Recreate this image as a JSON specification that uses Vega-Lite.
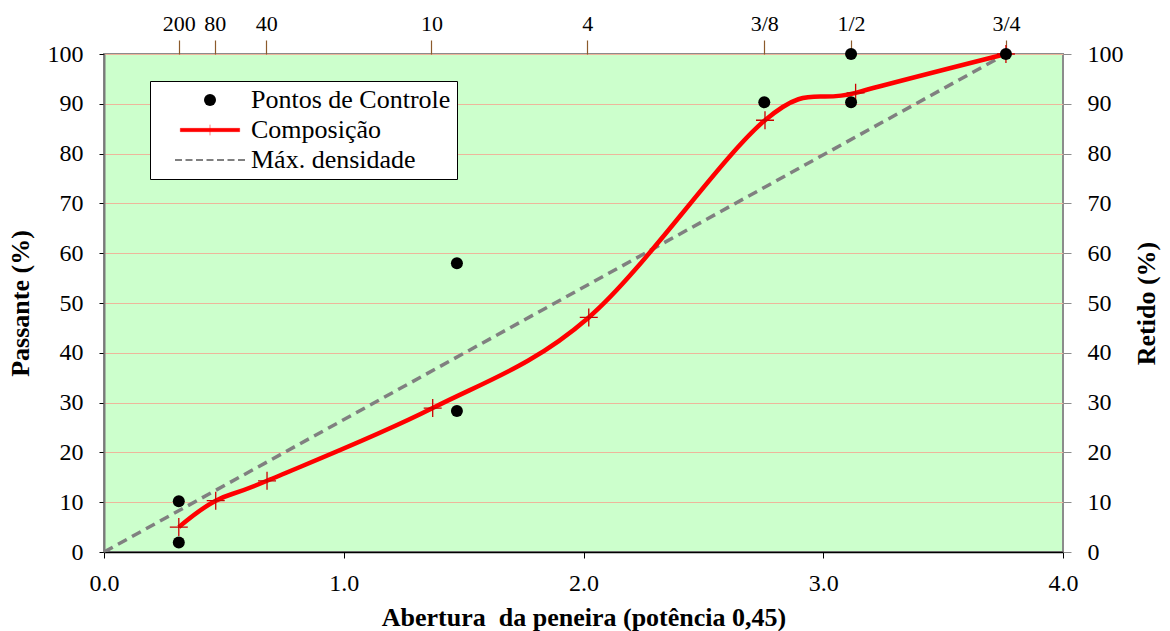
{
  "$schema": "https://vega.github.io/schema/vega-lite/v6.json",
  "width": 959,
  "height": 498,
  "autosize": {"type": "none"},
  "padding": {"left": 104, "top": 54, "right": 107, "bottom": 79},
  "background": "white",
  "config": {
    "view": {"fill": "#CCFFCC", "stroke": "#8c8c8c", "strokeWidth": 2},
    "font": "Liberation Serif",
    "axis": {"labelFont": "Liberation Serif", "titleFont": "Liberation Serif", "labelColor": "black", "titleColor": "black", "labelFlush": false}
  },
  "datasets": {
    "controle": [
      {"x": 0.312, "y": 10.2, "serie": "Pontos de Controle"},
      {"x": 0.312, "y": 1.9, "serie": "Pontos de Controle"},
      {"x": 1.472, "y": 58.0, "serie": "Pontos de Controle"},
      {"x": 1.472, "y": 28.3, "serie": "Pontos de Controle"},
      {"x": 2.754, "y": 90.3, "serie": "Pontos de Controle"},
      {"x": 3.116, "y": 100.0, "serie": "Pontos de Controle"},
      {"x": 3.116, "y": 90.3, "serie": "Pontos de Controle"},
      {"x": 3.762, "y": 100.0, "serie": "Pontos de Controle"}
    ],
    "composicao": [
      {"x": 0.312, "y": 5.0},
      {"x": 0.466, "y": 10.3},
      {"x": 0.68, "y": 14.3},
      {"x": 1.371, "y": 28.9},
      {"x": 2.022, "y": 47.1},
      {"x": 2.757, "y": 86.7},
      {"x": 3.135, "y": 92.2},
      {"x": 3.762, "y": 100.0}
    ],
    "maxdens": [
      {"x": 0.0, "y": 0.0},
      {"x": 3.762, "y": 100.0}
    ]
  },
  "resolve": {"axis": {"x": "independent", "y": "independent"}},
  "layer": [
    {
      "data": {"name": "maxdens"},
      "mark": {"type": "line", "stroke": "#808080", "strokeWidth": 3.5, "strokeDash": [10, 6], "clip": true},
      "encoding": {
        "x": {"field": "x", "type": "quantitative", "scale": {"domain": [0, 4], "nice": false},
          "axis": {"orient": "bottom", "values": [0, 1, 2, 3, 4], "format": ".1f", "grid": false,
            "labelFontSize": 24, "labelPadding": 13, "tickSize": 6, "tickColor": "black", "domainColor": "black", "domainWidth": 1.5,
            "title": "Abertura\u00a0 da peneira (potência 0,45)", "titleFontSize": 26, "titleFontWeight": "bold", "titlePadding": 9}},
        "y": {"field": "y", "type": "quantitative", "scale": {"domain": [0, 100], "nice": false},
          "axis": {"orient": "left", "values": [0, 10, 20, 30, 40, 50, 60, 70, 80, 90, 100], "grid": true, "gridColor": "#EDB69C", "gridWidth": 1,
            "labelFontSize": 24, "labelPadding": 16, "tickSize": 5, "tickColor": "black", "domainColor": "#7a7a7a", "domainWidth": 2,
            "title": "Passante (%)", "titleFontSize": 26, "titleFontWeight": "bold", "titlePadding": 14}}
      }
    },
    {
      "data": {"name": "composicao"},
      "mark": {"type": "line", "stroke": "#FF0000", "strokeWidth": 4.5, "interpolate": "cardinal", "tension": 0},
      "encoding": {
        "x": {"field": "x", "type": "quantitative",
          "axis": {"orient": "top", "values": [0.312, 0.462, 0.677, 1.366, 2.016, 2.754, 3.116, 3.762],
            "labelExpr": "datum.value < 0.4 ? '200' : datum.value < 0.5 ? '80' : datum.value < 1 ? '40' : datum.value < 1.5 ? '10' : datum.value < 2.5 ? '4' : datum.value < 3 ? '3/8' : datum.value < 3.5 ? '1/2' : '3/4'",
            "grid": false, "domain": false, "labelFontSize": 22, "labelPadding": 5, "tickSize": 14, "tickColor": "#8B5A2B", "tickWidth": 1.2, "title": null}},
        "y": {"field": "y", "type": "quantitative",
          "axis": {"orient": "right", "values": [0, 10, 20, 30, 40, 50, 60, 70, 80, 90, 100], "grid": false,
            "labelFontSize": 24, "labelPadding": 16, "tickSize": 8, "tickColor": "#8c8c8c", "domain": false,
            "title": "Retido (%)", "titleAngle": 270, "titleFontSize": 26, "titleFontWeight": "bold", "titlePadding": 36}}
      }
    },
    {
      "data": {"name": "composicao"},
      "mark": {"type": "point", "shape": "M-1,0H1M0,-1V1", "size": 324, "filled": false, "stroke": "#CC0000", "strokeWidth": 1.3, "opacity": 1},
      "encoding": {
        "x": {"field": "x", "type": "quantitative", "axis": null},
        "y": {"field": "y", "type": "quantitative", "axis": null}
      }
    },
    {
      "data": {"name": "controle"},
      "mark": {"type": "point", "opacity": 1},
      "encoding": {
        "x": {"field": "x", "type": "quantitative", "axis": null},
        "y": {"field": "y", "type": "quantitative", "axis": null},
        "shape": {"field": "serie", "type": "nominal",
          "scale": {"domain": ["Pontos de Controle", "Composição", "Máx. densidade"],
            "range": ["circle", "M-3.6,-0.2H3.6V0.2H-3.6Z M0,-0.65V0.65", "M-3.5,0H-2.8M-2.45,0H-1.75M-1.4,0H-0.7M-0.35,0H0.35M0.7,0H1.4M1.75,0H2.45M2.8,0H3.5"]},
          "legend": {"orient": "none", "legendX": 46, "legendY": 27, "title": null, "labelFont": "Liberation Serif", "labelFontSize": 26, "labelColor": "black",
            "strokeColor": "black", "fillColor": "white", "padding": 6, "rowPadding": 4, "symbolOffset": 41, "labelOffset": 28, "cornerRadius": 0, "labelLimit": 400}},
        "fill": {"field": "serie", "type": "nominal",
          "scale": {"domain": ["Pontos de Controle", "Composição", "Máx. densidade"], "range": ["black", "#FF0000", "transparent"]}},
        "stroke": {"field": "serie", "type": "nominal",
          "scale": {"domain": ["Pontos de Controle", "Composição", "Máx. densidade"], "range": ["black", "#FF0000", "black"]}},
        "strokeWidth": {"field": "serie", "type": "nominal",
          "scale": {"domain": ["Pontos de Controle", "Composição", "Máx. densidade"], "range": [0, 1, 1.5]}},
        "size": {"field": "serie", "type": "nominal",
          "scale": {"domain": ["Pontos de Controle", "Composição", "Máx. densidade"], "range": [144, 400, 400]}}
      }
    }
  ]
}
